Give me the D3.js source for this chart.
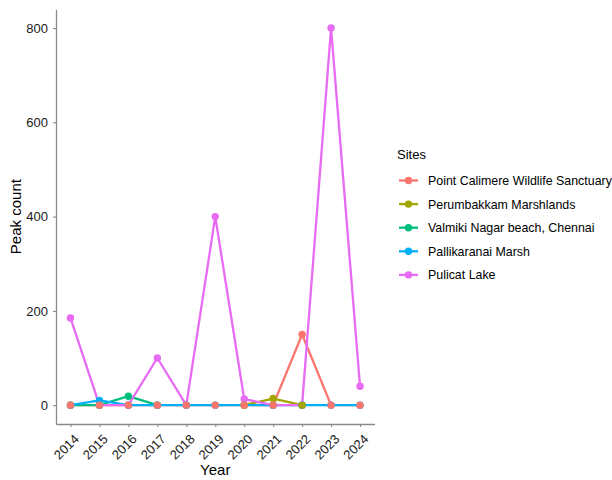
<!DOCTYPE html>
<html><head><meta charset="utf-8">
<script src="https://cdn.jsdelivr.net/npm/d3@7"></script>
<style>body{margin:0;background:#fff;} text{font-family:Arial,"Liberation Sans",sans-serif;}</style>
</head><body>
<svg id="c" width="612" height="480"></svg>
<script>
const years = [2014,2015,2016,2017,2018,2019,2020,2021,2022,2023,2024];
const yTicks = [0,200,400,600,800];
const siteNames = ["Point Calimere Wildlife Sanctuary","Perumbakkam Marshlands","Valmiki Nagar beach, Chennai","Pallikaranai Marsh","Pulicat Lake"];
const siteColors = ["#F8766D","#A3A500","#00BF7D","#00B0F6","#E76BF3"];
const pointCalimere = [0,0,0,0,0,0,0,0,150,0,0];
const perumbakkamYears = [2020,2021,2022];
const perumbakkam = [0,14,0];
const valmikiYears = [2014,2015,2016,2017];
const valmiki = [0,0,19,0];
const pallikaranai = [0,10,0,0,0,0,0,0,0,0,0];
const pulicat = [185,0,0,100,0,400,13,0,0,800,40];

const series = [
  {name: siteNames[0], color: siteColors[0], x: years, y: pointCalimere},
  {name: siteNames[1], color: siteColors[1], x: perumbakkamYears, y: perumbakkam},
  {name: siteNames[2], color: siteColors[2], x: valmikiYears, y: valmiki},
  {name: siteNames[3], color: siteColors[3], x: years, y: pallikaranai},
  {name: siteNames[4], color: siteColors[4], x: years, y: pulicat}
].map(s => ({...s, pts: s.x.map((xx,i)=>({x:xx,y:s.y[i]}))}));

const svg = d3.select("#c");
const L = 56, R = 374.5, T = 9.2, B = 424;
const x = d3.scaleLinear().domain([2013.5, 2024.5]).range([L, R]);
const y = d3.scaleLinear().domain([-40, 840]).range([B, T]);
const axisCol = "#8a8a8a";
const textCol = "#1a1a1a";

// axes
const xa = svg.append("g").attr("transform", `translate(0,${B})`)
  .call(d3.axisBottom(x).tickValues(years).tickFormat(d3.format("d")).tickSize(3).tickSizeOuter(0));
xa.select(".domain").attr("stroke",axisCol).attr("stroke-width",1.3);
xa.selectAll(".tick line").attr("stroke",axisCol).attr("stroke-width",1.1);
xa.selectAll(".tick text").attr("font-size",13).attr("fill",textCol)
  .attr("text-anchor","end").attr("dy",null).attr("y",0)
  .attr("transform","translate(2,9) rotate(-45)").attr("dominant-baseline","hanging");

const ya = svg.append("g").attr("transform", `translate(${L},0)`)
  .call(d3.axisLeft(y).tickValues(yTicks).tickSize(3).tickSizeOuter(0));
ya.select(".domain").attr("stroke",axisCol).attr("stroke-width",1.3);
ya.selectAll(".tick line").attr("stroke",axisCol).attr("stroke-width",1.1);
ya.selectAll(".tick text").attr("font-size",13).attr("fill",textCol).attr("x",-8);

svg.append("text").attr("x", (L+R)/2).attr("y", 475).attr("text-anchor","middle")
  .attr("font-size",15).attr("fill","#000").text("Year");
svg.append("text").attr("transform", `translate(20.5,${(T+B)/2}) rotate(-90)`).attr("text-anchor","middle")
  .attr("font-size",15).attr("fill","#000").text("Peak count");

const line = d3.line().x(d=>x(d.x)).y(d=>y(d.y));
const plot = svg.append("g");
series.forEach(s => {
  plot.append("path").datum(s.pts).attr("d", line).attr("fill","none")
    .attr("stroke", s.color).attr("stroke-width",2.3).attr("stroke-linejoin","round");
});
// points drawn in data row order
[4,3,2,1,0].forEach(i => {
  const s = series[i];
  plot.selectAll(null).data(s.pts).enter().append("circle")
    .attr("cx", d=>x(d.x)).attr("cy", d=>y(d.y)).attr("r",3.7).attr("fill", s.color);
});

// legend
const lg = svg.append("g");
lg.append("text").attr("x",397).attr("y",159).attr("font-size",13).attr("fill","#000").text("Sites");
siteNames.forEach((n,i) => {
  const yy = 180.5 + i*23.6;
  lg.append("line").attr("x1",399).attr("x2",418).attr("y1",yy).attr("y2",yy)
    .attr("stroke",siteColors[i]).attr("stroke-width",2.3);
  lg.append("circle").attr("cx",408.5).attr("cy",yy).attr("r",3.7).attr("fill",siteColors[i]);
  lg.append("text").attr("x",428).attr("y",yy+4.5).attr("font-size",12.4).attr("fill","#000").text(n);
});
</script>
</body></html>
